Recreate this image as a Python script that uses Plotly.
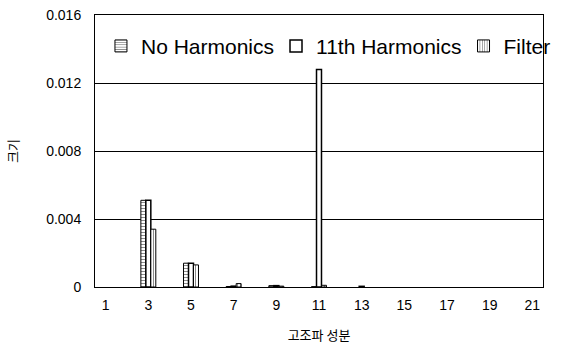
import plotly.graph_objects as go

orders = list(range(1, 22))
no_harmonics = [None, None, 0.0051, None, 0.0014, None, 0.00003, None, 0.00008, None, 0.00002,
                None, None, None, None, None, None, None, None, None, None]
harm_11 = [None, None, 0.0051, None, 0.0014, None, 0.00005, None, 0.00008, None, 0.0128,
           None, 0.00004, None, None, None, None, None, None, None, None]
filter_vals = [None, None, 0.0034, None, 0.0013, None, 0.0002, None, 0.00005, None, 0.0001,
               None, None, None, None, None, None, None, None, None, None]
y_ticks = [0, 0.004, 0.008, 0.012, 0.016]
y_labels = ["0", "0.004", "0.008", "0.012", "0.016"]
x_ticks = [1, 3, 5, 7, 9, 11, 13, 15, 17, 19, 21]

FONT = "Liberation Sans, Arial, sans-serif"
KFONT = "Noto Sans CJK KR"

fig = go.Figure()
fig.add_trace(go.Bar(x=orders, y=no_harmonics, name="No Harmonics",
                     marker=dict(color="white", line=dict(color="black", width=1),
                                 pattern=dict(shape="-", fgcolor="black", bgcolor="white", size=3, solidity=0.3))))
fig.add_trace(go.Bar(x=orders, y=harm_11, name="11th Harmonics",
                     marker=dict(color="white", line=dict(color="black", width=1.5))))
fig.add_trace(go.Bar(x=orders, y=filter_vals, name="Filter",
                     marker=dict(color="white", line=dict(color="black", width=1),
                                 pattern=dict(shape="|", fgcolor="black", bgcolor="white", size=3, solidity=0.3))))

fig.update_layout(
    width=574, height=347,
    margin=dict(l=95, r=31, t=15, b=60, autoexpand=False),
    paper_bgcolor="white", plot_bgcolor="white",
    barmode="group", bargap=0.3, bargroupgap=0,
    font=dict(family=FONT, color="black", size=13),
    showlegend=True,
    legend=dict(orientation="h", x=0.02, xanchor="left",
                y=0.885, yanchor="middle", indentation=-3,
                bgcolor="rgba(0,0,0,0)", font=dict(size=21, family=FONT),
                itemwidth=30, traceorder="normal"),
    xaxis=dict(range=[0.5, 21.5], tickmode="array", tickvals=x_ticks,
               showline=True, linecolor="black", linewidth=1, mirror=True,
               showgrid=False, zeroline=False, ticks="", automargin=False,
               ticklabelstandoff=5,
               title=dict(text="고조파 성분", font=dict(size=13, family=KFONT), standoff=19),
               tickfont=dict(size=14)),
    yaxis=dict(range=[0, 0.016], tickmode="array", tickvals=y_ticks, ticktext=y_labels,
               showline=True, linecolor="black", linewidth=1, mirror=True,
               showgrid=True, gridcolor="black", gridwidth=1, zeroline=False,
               ticks="", ticklabelstandoff=10, automargin=False,
               title=dict(text="크기", font=dict(size=13, family=KFONT), standoff=24),
               tickfont=dict(size=14)),
)

# remove the default page margin so the figure sits at the window origin,
# and let the legend (which extends past the plot area, as in the original) show fully
post = (
    "document.body.style.margin='0';"
    "document.querySelectorAll('.legend .scrollbox').forEach(function(e){e.removeAttribute('clip-path');});"
)
fig.write_html("out.html", post_script=post, config={"displayModeBar": False})
